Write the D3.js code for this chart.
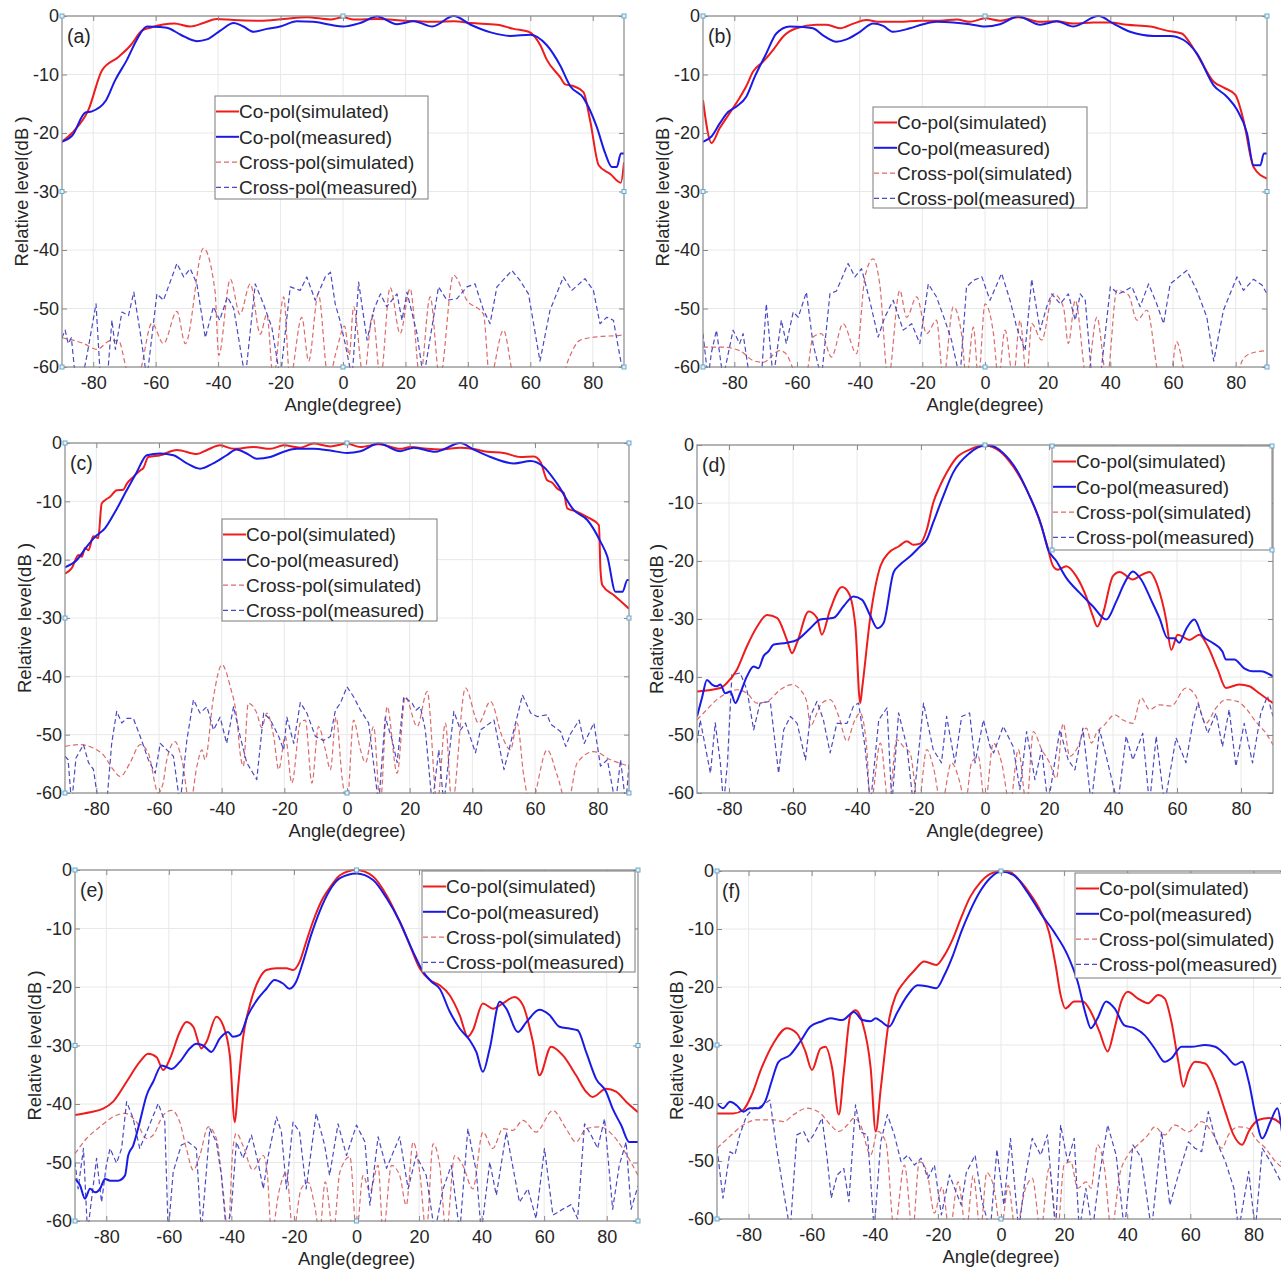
<!DOCTYPE html>
<html><head><meta charset="utf-8">
<script src="https://cdn.jsdelivr.net/npm/d3@7"></script>
<style>
html,body{margin:0;padding:0;background:#fff;}
svg{display:block;font-family:"Liberation Sans",Arial,Helvetica,sans-serif;}
</style></head>
<body>
<svg id="chart" width="1281" height="1272"></svg>
<script>
// ---------- tick labels / categories ----------
const xTicks = [-80,-60,-40,-20,0,20,40,60,80];
const yTicks = [0,-10,-20,-30,-40,-50,-60];
const legendLabels = ["Co-pol(simulated)","Co-pol(measured)","Cross-pol(simulated)","Cross-pol(measured)"];
const panelLabels = ["(a)","(b)","(c)","(d)","(e)","(f)"];
const xTitle = "Angle(degree)";
const yTitle = "Relative level(dB )";

// ---------- panel (a) ----------
const aCoSim = [[-90,-21.5],[-86.8,-20],[-81.5,-16],[-77.2,-9.3],[-71.9,-7],[-68,-5],[-64.4,-2.5],[-61.7,-2],[-54,-1.3],[-49,-1.8],[-44.7,-1.2],[-40.4,-0.5],[-35,-0.7],[-26.5,-0.8],[-19,-0.5],[-11.6,-0.2],[-4,-0.6],[0,-0.2],[3.4,-0.6],[10.9,-0.5],[20,-0.8],[28,-1.0],[35.5,-0.9],[40.9,-1.2],[49.4,-1.5],[54.7,-2.2],[59.5,-2.7],[63.2,-5],[65.3,-7.5],[69.6,-10.5],[71.2,-11.7],[73.9,-12],[77,-13],[79.2,-18],[81.9,-25.5],[85.6,-27],[89,-28.5],[90,-25]];
const aCoMeas = [[-90,-21.5],[-86.8,-20.5],[-82.5,-16.5],[-80.4,-16.3],[-76,-14.5],[-73,-11],[-69.2,-7.5],[-66,-4],[-62.8,-1.8],[-58.5,-1.9],[-56.4,-2],[-52,-3.2],[-46.8,-4.3],[-43.6,-4],[-39.3,-2.5],[-35,-1.2],[-31.9,-1.8],[-28.7,-2.7],[-24.4,-2.2],[-20.1,-1.8],[-14.8,-0.9],[-9.5,-1.0],[-4.1,-1.5],[0,-1.8],[5.5,-1.2],[10.9,-0.1],[17.3,-1.4],[22.7,-0.9],[28.6,-1.8],[35.5,0],[40.9,-1.5],[47.3,-2.8],[53.6,-3.4],[60,-3.2],[65.3,-5],[69.6,-8.5],[72.8,-12],[77,-14],[81.3,-19],[84,-23.5],[86.1,-25.8],[87.7,-25.8],[89,-23.5],[90,-23.5]];
const aXSim = [[-90,-55],[-83,-56],[-78.8,-57],[-74.5,-55.5],[-71.9,-55.5],[-68.7,-61],[-65.5,-61],[-61.2,-52.5],[-57.5,-56],[-53.2,-50.5],[-50.5,-56],[-44.7,-39.7],[-41,-47],[-39.8,-58],[-36.1,-45],[-33,-51],[-29.7,-45.8],[-26.5,-54.4],[-24.4,-51],[-22.3,-62],[-19,-48],[-17,-62],[-13.2,-51.5],[-11,-59],[-7.9,-47.5],[-4.7,-62],[-2,-57],[0.5,-53],[2,-58],[3.4,-49.7],[6.6,-62],[9.5,-51],[12,-62],[15.1,-46.4],[18.3,-54.3],[21.5,-46.6],[24.7,-62],[27.9,-48],[31,-62],[35.4,-44.3],[39.7,-48.6],[45,-51],[47,-62],[51.4,-53.7],[55,-62],[60,-62],[70,-62],[72,-59],[76,-55.4],[82,-54.8],[88.7,-54.6],[90,-54.5]];
const aXMeas = [[-90,-55],[-89,-53.7],[-88,-56],[-87,-55],[-85.7,-62],[-83.5,-62],[-82,-58],[-79.1,-49.2],[-77.7,-62],[-75.5,-62],[-74,-52],[-72.9,-57],[-70.8,-50.6],[-68.7,-51.2],[-67,-47.2],[-64.9,-54.3],[-62.8,-62],[-59.6,-47.5],[-57.5,-48.6],[-53.2,-42.3],[-51,-44.6],[-48.9,-43.2],[-46.8,-45.8],[-44.1,-55],[-41.5,-49.7],[-39.5,-52],[-37,-48],[-35,-50],[-31.3,-62],[-28.1,-45.8],[-25.5,-49.2],[-22.8,-53.2],[-20.1,-62],[-16.9,-46.3],[-13.7,-46.9],[-11.6,-44.6],[-8.9,-48.6],[-5.7,-44.6],[-4,-43.8],[-2.5,-49.2],[-1,-52],[0.7,-56],[2.9,-62],[5,-45.5],[7.7,-55.4],[10,-50],[12,-47.5],[14,-49.7],[17.3,-47.5],[18.9,-52],[20.5,-47.2],[23.7,-54.3],[25.8,-62],[30.6,-46.3],[33.3,-48.6],[36.5,-48.3],[39.7,-46.3],[42.3,-45.8],[45,-50.3],[47.1,-52.6],[49.3,-46.3],[54.1,-43.5],[56.7,-45.2],[59.4,-47.5],[63.1,-59],[66.3,-50.3],[70.6,-44.6],[73.3,-46.9],[77.5,-44.9],[80.2,-46.9],[82.3,-52.6],[84.5,-51.5],[86.6,-52],[90,-62]];

// ---------- panel (b) ----------
const bCoSim = [[-90,-14.4],[-87.3,-21.7],[-84.7,-19.2],[-82,-17],[-78.8,-14.4],[-76.2,-12],[-74,-9.5],[-70.8,-7.8],[-67.6,-5.8],[-64.4,-3.5],[-60.2,-2.1],[-53.8,-1.5],[-50.5,-1.5],[-46.3,-2.1],[-42,-1.3],[-37.8,-0.7],[-33.6,-1],[-27.2,-1],[-20.8,-0.8],[-14.4,-0.8],[-9,-0.6],[-4.8,-1],[0,-0.4],[4.8,-0.8],[10.6,-0.2],[17.6,-1],[22.9,-0.9],[28.2,-1.3],[34.6,-1.1],[40,-1.1],[45.3,-1.5],[52.7,-1.8],[58,-2.5],[62.8,-3],[65.5,-4.7],[68.7,-7.5],[72.9,-11.2],[76.1,-12.2],[79.9,-13.5],[82.5,-17.8],[85.7,-25.8],[90,-27.8]];
const bCoMeas = [[-90,-21.5],[-87.3,-20.6],[-84.7,-18.4],[-82,-16.4],[-79.4,-15.5],[-76.2,-13.8],[-73.5,-10.4],[-69.8,-6.4],[-66.6,-3],[-62.3,-1.8],[-58,-1.9],[-54.9,-2.1],[-51.7,-3.3],[-47.4,-4.4],[-44.2,-4],[-39.9,-2.7],[-35.7,-1.3],[-32.5,-1.7],[-29.3,-2.7],[-24,-2.1],[-19.7,-1.4],[-15.5,-1],[-10.1,-1.1],[-4.8,-1.4],[0,-1.8],[4.8,-1.4],[10.6,-0.1],[17.6,-1.5],[22.9,-0.9],[28.2,-1.8],[36.2,0],[41,-1.3],[46.3,-2.7],[53.8,-3.4],[59.1,-3.4],[63.4,-4.1],[67.6,-6.4],[72.9,-11.8],[77.2,-13.8],[80.4,-16],[83.6,-20],[85.7,-25.5],[87.9,-25.5],[89,-23.5],[90,-23.5]];
const bXSim = [[-90,-56.6],[-84,-56.6],[-78.3,-57.2],[-74,-58.9],[-70.8,-59.2],[-65.5,-57.2],[-63.4,-57.8],[-60.2,-61],[-57,-61],[-54.9,-54.9],[-52.2,-54.3],[-49,-58.3],[-45.3,-52.6],[-41,-57.7],[-38.3,-44.6],[-35.7,-41.5],[-33.6,-45.8],[-30.9,-62],[-27.2,-46.9],[-25,-51.5],[-21.8,-48],[-18.6,-54.3],[-15.5,-52],[-13.3,-62],[-10.1,-49.7],[-7.5,-54.3],[-5.9,-62],[-3.7,-53.2],[-2.1,-62],[0,-49.2],[2.7,-54.3],[4.3,-62],[6.4,-53.7],[9,-62],[11.2,-52],[13.3,-62],[14.9,-52.6],[18.1,-55.4],[21.8,-47.5],[25,-49.7],[26.6,-56],[28.8,-48.6],[32.5,-62],[35.7,-51.5],[38.9,-62],[42.1,-46.9],[45.8,-47.7],[48.5,-52],[51.7,-50.3],[55.9,-62],[59,-62],[61.2,-55.7],[64.4,-62],[80.4,-62],[82,-59],[84.7,-57.7],[90,-57.2]];
const bXMeas = [[-90,-54.3],[-88.4,-62],[-87.3,-57.5],[-85.7,-53.7],[-83.6,-62],[-80.4,-53.7],[-78.3,-56],[-77.2,-54.3],[-75.1,-62],[-71.4,-62],[-69.8,-49.2],[-67.6,-62],[-65,-52],[-63.4,-56],[-61.2,-50.6],[-59.6,-51.5],[-57,-47.2],[-54.9,-56],[-52.2,-62],[-49.5,-47.5],[-47.4,-47],[-43.7,-42.3],[-41.5,-44.6],[-39.4,-43.2],[-36.8,-48.6],[-34.1,-54.9],[-32,-51.5],[-29.3,-48.6],[-26.1,-53.7],[-23.4,-52.6],[-20.8,-56],[-18.1,-45.8],[-15.5,-48],[-12.8,-52],[-10.7,-55.4],[-8,-62],[-5.9,-46.3],[-3.7,-45.2],[-1,-44.6],[1.6,-48.6],[5.3,-44],[8,-48.6],[10.1,-53.2],[12.8,-57.2],[14.9,-45],[17.6,-53.7],[19.7,-49.7],[21.3,-47.5],[24,-49.2],[26.6,-47.5],[28.8,-52],[30.4,-47.5],[32,-48.6],[34.1,-62],[36.8,-62],[40,-46.3],[42.6,-47.5],[44.7,-47],[46.9,-46.3],[49.5,-49.7],[52.2,-45.8],[54.8,-49.2],[57,-52.6],[59.1,-45.8],[64.4,-43.5],[67.6,-46.9],[70.8,-51.5],[73,-59],[76.1,-50.3],[80.4,-44.6],[82.5,-46.9],[85.7,-45],[88.4,-46],[90,-47.5]];

// ---------- panel (c) ----------
const cCoSim = [[-90,-22.4],[-87.9,-21.5],[-85.7,-19.2],[-84.6,-19.5],[-83.6,-18],[-82.5,-18.4],[-81,-16],[-79.4,-16.3],[-78.3,-10.4],[-77.2,-9.8],[-75.6,-9.2],[-73.5,-8.1],[-71.4,-8],[-70.3,-7],[-68.2,-5.8],[-66,-4.7],[-65,-4.3],[-63.4,-2.4],[-59.6,-2.1],[-54.3,-1.2],[-47.9,-1.9],[-44.7,-1.2],[-40.5,-0.4],[-36.2,-1],[-29.8,-0.7],[-24.5,-1],[-20.2,-0.4],[-14.9,-0.8],[-10.7,-0.1],[-5.3,-0.6],[0,-0.1],[4.3,-0.7],[10.1,-0.2],[17,-1],[20.2,-0.7],[25.6,-1],[29.8,-1.1],[36.2,-0.8],[40,-1],[44.7,-1.5],[50,-1.7],[55.4,-2.4],[59.6,-2.3],[61.8,-3.3],[63.9,-6.4],[65.5,-6.8],[67.1,-7.8],[69.2,-8.6],[70.3,-11.2],[73.5,-11.8],[76.7,-12.7],[80.4,-14.1],[80.9,-21.8],[81.5,-24.4],[85.2,-26.1],[90,-28.4]];
const cCoMeas = [[-90,-21.3],[-86.3,-20.1],[-83.1,-17.8],[-80.4,-16.1],[-77.2,-14.6],[-74,-11.8],[-70.3,-8.1],[-67.1,-5],[-63.9,-2.1],[-59.6,-1.8],[-55.4,-2.1],[-51.1,-3.5],[-46.9,-4.4],[-42.7,-3.5],[-38.4,-2.1],[-35.2,-1.1],[-32,-1.8],[-28.8,-2.7],[-24.5,-2.4],[-20.2,-1.5],[-16,-1],[-10.7,-1],[-5.3,-1.3],[0,-1.7],[4.3,-1.4],[10.1,-0.1],[17,-1.4],[21.3,-0.8],[28.2,-1.5],[36.2,0],[40,-1],[45.8,-2.4],[53.3,-3.5],[58.6,-3.1],[62.8,-4.1],[67.1,-7],[72.4,-11.5],[76.7,-13.2],[80.9,-16.9],[83.1,-19.5],[85.7,-25.5],[87.9,-25.5],[89.5,-23.5],[90,-23.5]];
const cXSim = [[-90,-52],[-85.2,-51.7],[-81,-52.3],[-77.7,-53.5],[-74.6,-56],[-72.4,-57.2],[-69.2,-54.8],[-66,-51.7],[-63.4,-53.2],[-60.2,-60],[-58.7,-58.3],[-57.5,-54.3],[-54.9,-51.2],[-52.7,-54.3],[-50.1,-62],[-47.9,-55.4],[-46.3,-52.6],[-45.3,-54.3],[-42.6,-43.5],[-39.9,-38],[-37.3,-41.7],[-35.1,-47.5],[-34.1,-53.2],[-33.1,-55.4],[-31.5,-44.6],[-28.8,-46.3],[-27.2,-48.8],[-25.6,-46.3],[-23.4,-50.3],[-21.8,-56],[-19.7,-50.3],[-17.6,-58.3],[-14.9,-48],[-13.3,-47.5],[-11.2,-58.3],[-9.1,-48.6],[-6.9,-52.6],[-5.3,-56],[-3.5,-47],[-1.5,-57.7],[0,-62],[2.1,-47.5],[4.3,-52.6],[5.9,-54.8],[8.5,-48.6],[10.6,-62],[12.8,-45.2],[16,-56.6],[18.6,-43.5],[22.4,-48.6],[25.6,-42.6],[28.8,-62],[31.4,-48],[33.5,-62],[37.8,-42],[42,-48],[45.8,-44.3],[49.5,-50.3],[52.2,-52.6],[54.3,-48],[56.4,-57],[58.6,-62],[63.9,-52.6],[67.1,-57],[70.3,-62],[73.5,-54.8],[78.8,-52.9],[84.1,-54.3],[90,-55.4]];
const cXMeas = [[-90,-53.7],[-89,-54.3],[-87.9,-62],[-86.5,-54],[-84.1,-51.7],[-82.5,-54.8],[-80.9,-56],[-79.3,-62],[-76.7,-62],[-75.1,-51.5],[-73.5,-46],[-71.9,-48],[-70.3,-47.2],[-68.2,-47.2],[-66,-50.3],[-63.4,-54.3],[-61.2,-56.6],[-59.6,-51.5],[-57.5,-52.6],[-55.4,-53.7],[-53.3,-62],[-51.1,-50.9],[-49,-44],[-46.9,-46.3],[-44.7,-45.2],[-42.6,-49.2],[-40.5,-47],[-38.4,-51.5],[-36.2,-45.2],[-34.1,-50.3],[-32,-54.8],[-28.8,-57.7],[-26.6,-46.3],[-24.5,-47.4],[-21.8,-50.3],[-20.2,-52.6],[-19.2,-47],[-17,-51.5],[-14.9,-44.5],[-12.8,-46.3],[-10.1,-50.3],[-7.5,-51],[-5.3,-50.3],[-3.7,-45.8],[-2.1,-44.6],[0,-41.8],[2.1,-43.5],[4.3,-45.8],[6.9,-48],[10.1,-62],[12.2,-47],[14.4,-50.9],[16,-54.8],[18.1,-43.5],[20.8,-44.6],[22,-45.8],[23.4,-45.2],[25,-49.2],[27.2,-62],[29.3,-52.6],[30.9,-62],[34.1,-46],[36.2,-49.2],[37.8,-48],[41,-53.1],[42.6,-49.2],[46.9,-47.5],[50.1,-56],[52.2,-51.5],[56,-43.2],[58.6,-46.3],[60.7,-46.9],[63.9,-46.6],[65,-48.2],[68.2,-49.5],[69.8,-52],[71.4,-49.8],[74.1,-47.5],[75.7,-51.5],[78.8,-48],[80.9,-55.4],[83.1,-54.3],[85.7,-62],[87.3,-54.3],[89,-62],[90,-55]];

// ---------- panel (d) ----------
const dCoSim = [[-90,-42.5],[-82.7,-41.9],[-80.6,-41],[-77.5,-38.7],[-74.4,-34.7],[-71.2,-31.3],[-68.1,-29.3],[-65,-29.8],[-61.9,-33.6],[-60.3,-35.9],[-58.7,-34],[-55.1,-28.7],[-52.5,-29.8],[-51,-32.7],[-48.4,-28.4],[-44.7,-24.5],[-42.6,-25.5],[-40.5,-31.3],[-39,-44.5],[-38.4,-42],[-35.8,-29.5],[-32.7,-20.9],[-30.1,-18.6],[-27,-17.5],[-24.4,-16.6],[-22.4,-17.2],[-20.3,-17],[-18.2,-14.6],[-16.2,-10],[-14.1,-7.1],[-12,-4.8],[-8.9,-2.2],[-4.8,-0.8],[0,-0.1],[4.7,-1.1],[8.8,-3.7],[13,-7.7],[16.6,-12.3],[19.2,-16.9],[21.3,-20.9],[22.8,-21.5],[25.4,-20.9],[28.5,-22.6],[31.6,-26.1],[33.7,-29.5],[35.1,-31.3],[36.9,-29],[40,-22.6],[42.1,-21.9],[46.2,-23.2],[48.3,-22.6],[51.4,-21.9],[54,-24.4],[56.6,-30.1],[58.2,-35.3],[60.2,-32.7],[63.9,-33.6],[67,-32.7],[69.6,-34.7],[72.7,-38.7],[75.3,-41.9],[79.4,-41.3],[82.6,-41.6],[85.7,-42.8],[90,-44.5]];
const dCoMeas = [[-90,-46.8],[-88.4,-43.5],[-86.9,-40.5],[-85.3,-41.3],[-83.8,-41.6],[-82.7,-41.3],[-81.2,-42.8],[-79.6,-42.5],[-78,-44.5],[-76.5,-42.8],[-74.4,-39.9],[-72.3,-38.2],[-70.8,-38.5],[-69.2,-36.4],[-67.7,-35.6],[-66,-34.4],[-61.9,-34.1],[-58.7,-33.6],[-54.6,-31.6],[-51.5,-30.1],[-47.3,-29.8],[-44.2,-27.8],[-41.1,-26.1],[-38.4,-26.7],[-35.8,-29.5],[-33.6,-31.6],[-31.7,-30.7],[-28.6,-22],[-26.5,-20.6],[-23.4,-19.2],[-20.3,-17.5],[-18.2,-16.3],[-16.2,-13.4],[-13.1,-8.9],[-10,-4.8],[-4.8,-1.4],[0,-0.1],[1.6,-0.1],[5.7,-1.4],[9.9,-4.3],[14,-8.9],[17.7,-14],[19.7,-18],[22.3,-20],[25.4,-22.9],[29.6,-25.5],[33.7,-27.8],[37.9,-30.1],[41,-27],[43.6,-23.8],[46.2,-21.8],[48.8,-23.2],[51.9,-26.7],[54.5,-29.8],[57.1,-33.3],[59.2,-33.3],[60.7,-34.1],[62.8,-31.8],[65.4,-30.1],[68,-32.9],[71.1,-34.1],[74.2,-35.6],[75.3,-37],[77.9,-37],[81,-38.5],[83.6,-39],[86.2,-39],[90,-39.9]];
const dXSim = [[-90,-47.4],[-86.9,-45.6],[-83.8,-43.9],[-80.6,-42.8],[-77.5,-42.2],[-74.4,-42.8],[-71.2,-44.5],[-68.1,-44.2],[-64,-42.2],[-60.3,-41.3],[-57.7,-42.2],[-55.6,-44.5],[-54.6,-48.5],[-52.5,-46.2],[-51,-44.5],[-48.4,-43.9],[-45.7,-46.8],[-43.1,-51.1],[-41.1,-48],[-39,-46.2],[-37,-52],[-35.8,-62],[-32.7,-51.4],[-30.1,-62],[-27.6,-50.8],[-25.5,-52],[-23.4,-53.1],[-20.8,-62],[-18.2,-52.5],[-16.2,-55.4],[-13.6,-62],[-10.5,-54.8],[-7.8,-58.3],[-6.2,-62],[-4.2,-54.8],[-2.1,-53.7],[0,-62],[2.6,-51.4],[5.2,-54.8],[7.8,-62],[10.4,-52.5],[13,-62],[15.1,-49.4],[17.7,-52.5],[20.2,-54.8],[22.3,-57.5],[24.4,-48],[26.5,-53.7],[28.6,-52.5],[31.7,-48.8],[33.3,-51.4],[34.8,-49.7],[37.4,-48.2],[40.5,-46.5],[43.1,-47.4],[46.2,-48],[48.8,-43.6],[51.4,-45.6],[54.5,-44.8],[58.2,-45],[62.8,-41.9],[65.9,-43.3],[69,-48],[72.1,-45.4],[75.3,-43.9],[78.9,-44.2],[81.5,-45.4],[84.6,-47.7],[87.8,-49.7],[90,-51.7]];
const dXMeas = [[-90,-51.4],[-89,-47.4],[-87.4,-52],[-85.8,-56.6],[-84.3,-47.9],[-82.7,-54.8],[-81.7,-62],[-80.5,-55],[-79.1,-39.6],[-76.5,-39.3],[-74.4,-42.2],[-72.3,-49.1],[-70.3,-44.5],[-67.1,-44.2],[-64.5,-56.6],[-62.9,-49.1],[-60.8,-46.8],[-58.7,-48],[-56.1,-54.3],[-54.6,-46.8],[-52.5,-44.2],[-50.5,-47.4],[-48.4,-53.1],[-46.3,-48],[-43.1,-48],[-41.1,-45],[-39.5,-44.5],[-37.5,-52],[-35.8,-62],[-33.2,-47.4],[-30.6,-45.3],[-29.1,-62],[-27,-46.2],[-24.4,-52],[-22.4,-62],[-19.2,-44.5],[-16.2,-52.5],[-13.6,-54.8],[-12,-46.8],[-9.4,-54.8],[-7.3,-46.8],[-4.8,-46.2],[-3.1,-54.8],[-0.5,-47.4],[1.6,-52],[2.7,-53.1],[5.7,-48.5],[8.8,-52],[10.9,-59.4],[13,-49.4],[15.6,-57.7],[17.7,-52.5],[19.7,-62],[23.4,-49.1],[26,-54.3],[28.1,-56],[30.6,-48.8],[33.2,-62],[35.8,-49.1],[37.9,-53.7],[41.5,-62],[44.1,-50.2],[46.2,-54.3],[49.3,-49.7],[51.4,-62],[53.5,-50.2],[56.1,-62],[59.7,-50.5],[62.8,-54.8],[64.9,-48],[66.5,-44.5],[69.6,-49.7],[72.2,-46.2],[74.2,-52],[76.3,-45.6],[78.4,-55.4],[81,-48],[83.6,-54.8],[86.2,-46.2],[88.3,-43.3],[90,-46.8]];

// ---------- panel (e) ----------
const eCoSim = [[-90,-41.9],[-85.2,-41.4],[-81,-40.8],[-77.8,-39.6],[-73.5,-36.2],[-69.3,-32.8],[-66.6,-31.4],[-63.9,-32],[-61.8,-34.2],[-59.6,-32.2],[-56.5,-27.7],[-54.4,-26],[-52.2,-26.8],[-49.6,-30.5],[-48,-29.4],[-44.8,-25.1],[-42.7,-26.5],[-40.5,-31.7],[-38.9,-43.1],[-37.9,-37.4],[-36.3,-28.8],[-34.1,-23.1],[-31,-18.5],[-28.8,-17.1],[-25.6,-16.8],[-22.4,-16.8],[-20.3,-17.1],[-18.2,-15.7],[-16.1,-12.3],[-13.9,-8.8],[-10.7,-4.8],[-8.5,-3],[-5.3,-0.9],[0,0],[5.3,-1.1],[9.6,-4.3],[13.8,-8.8],[17,-12.8],[20.2,-16.8],[23.4,-18.8],[26.6,-19.7],[29.8,-21.4],[33,-24.8],[35.6,-28.5],[37.2,-27.4],[40.4,-22.8],[43.6,-23.7],[46.8,-22.8],[50.5,-21.7],[53.2,-23.1],[56.4,-29.4],[58.5,-35.1],[62.2,-30.2],[66,-31.7],[70.2,-35.1],[73.4,-37.9],[75.5,-38.8],[79.8,-37.4],[83,-37.9],[86.2,-39.6],[90,-41.4]];
const eCoMeas = [[-90,-52.8],[-88.4,-53.9],[-86.8,-56.2],[-85.2,-54.5],[-83.6,-55.1],[-82,-54.5],[-80.4,-52.8],[-78.8,-53.1],[-76.2,-53.1],[-74,-52.2],[-73,-48.8],[-71.4,-47.1],[-69.3,-43.1],[-67.1,-38.5],[-65,-36.2],[-62.3,-33.4],[-59.1,-34],[-56.5,-32.8],[-53.3,-30.5],[-51.2,-29.7],[-49,-30],[-46.4,-31.1],[-43.7,-28.8],[-41.1,-27.7],[-39.5,-28.5],[-37.3,-28.2],[-34.7,-24.8],[-31.5,-22],[-28.8,-20.3],[-26.2,-18.8],[-23.5,-19.4],[-21.4,-20.3],[-19.3,-19.1],[-17.1,-15.7],[-14.5,-11.1],[-11.8,-7.1],[-8.6,-3.5],[-5.3,-1.4],[0,-0.6],[5.3,-1.7],[9.6,-4.8],[13.8,-8.8],[18.1,-14],[21.3,-17.4],[24,-19.1],[26.6,-20.3],[29.8,-24.2],[33,-27.1],[36.2,-29.1],[38.3,-31.1],[40.4,-34.5],[42.6,-30.5],[45.8,-22.5],[47.9,-23.7],[51.6,-27.7],[54.3,-26],[58.5,-23.9],[61.7,-24.8],[64.9,-26.8],[68.1,-27.1],[70.7,-27.4],[73.4,-31.1],[76.6,-35.7],[79.8,-37.9],[81.9,-40.8],[84.6,-43.6],[87.2,-46.5],[90,-46.5]];
const eXSim = [[-90,-48.5],[-86.3,-45.9],[-82,-43.9],[-77.8,-42.2],[-74,-41.6],[-70.3,-43.1],[-67.1,-45.9],[-65,-45.3],[-61.8,-41.9],[-59.1,-41.1],[-56.5,-43.1],[-54.4,-47.6],[-52.2,-51.3],[-50.1,-48.8],[-47.4,-43.9],[-44.8,-45.9],[-42.7,-54.5],[-41.1,-62],[-39.5,-47.6],[-38.4,-45],[-36.3,-47.1],[-33.1,-51.3],[-29.8,-48.8],[-28.5,-52],[-27.2,-62],[-24.6,-54.5],[-22.4,-51.6],[-20.3,-62],[-17.7,-54.5],[-15.5,-53.4],[-13.4,-57.3],[-11.8,-62],[-10,-53.3],[-7.4,-62],[-5.3,-51.6],[-2.1,-49],[0,-62],[2.1,-52.2],[4.3,-55],[6.9,-50.5],[8.5,-62],[11.2,-50.5],[13.8,-52.2],[15.9,-57.3],[18.1,-46.5],[20.2,-51.6],[22.3,-62],[24.5,-46.8],[26.6,-50.5],[28.7,-62],[31.4,-48.8],[34,-50.5],[37.2,-54.5],[40.4,-44.8],[43.6,-47.6],[46.8,-44.2],[50,-44.5],[53.2,-42.8],[57.4,-44.8],[62.8,-41.1],[67,-44.2],[70.2,-46.5],[73.4,-44.2],[77.7,-43.9],[81.9,-45.3],[85.1,-47.6],[90,-52.2]];
const eXMeas = [[-90,-49.9],[-89,-54.5],[-87.3,-47.6],[-86,-62],[-84.3,-54.5],[-83.1,-49.3],[-81.5,-56.8],[-80,-50.5],[-78.8,-47.6],[-76.7,-50.1],[-75.1,-47.6],[-73.5,-39.6],[-71.4,-42.5],[-69.3,-47.6],[-67.1,-44.8],[-63.4,-39.9],[-61.3,-43],[-60.2,-62],[-58.6,-51.6],[-56,-47],[-53.8,-46.5],[-51.2,-47.6],[-49.6,-62],[-46.9,-44.2],[-44.8,-46.5],[-43.2,-52.2],[-41.6,-62],[-40,-57.9],[-38.4,-46.5],[-36.3,-49.3],[-33.6,-45.3],[-31.5,-49.9],[-29.8,-54.5],[-28.2,-48.8],[-25.6,-42.2],[-24,-44.8],[-22.4,-54.5],[-20.3,-43.1],[-18.2,-44.8],[-16.1,-54.5],[-12.9,-41.6],[-10.2,-47],[-8.6,-52.2],[-5.9,-43.4],[-3.2,-48.8],[0,-43.6],[2.7,-46.5],[4.3,-57.3],[6.9,-45.6],[9.6,-51],[13.8,-45.6],[16.5,-54.5],[19.1,-48.8],[22.3,-52.2],[25,-62],[27.7,-54.5],[30.3,-50.5],[33,-62],[35.6,-44.2],[38.3,-51.6],[39.9,-62],[42.6,-49.9],[44.7,-55.6],[47.9,-44.8],[50.5,-52.2],[52.1,-56.8],[54.8,-54.5],[57.4,-59.6],[60.1,-47.6],[62.8,-59],[65.9,-58],[68.6,-57.2],[70.7,-59.6],[72.9,-43.4],[75,-45.3],[77.1,-47.6],[79.3,-42.5],[81.9,-58],[84,-50.5],[86.2,-46.5],[87.8,-58],[90,-54]];

// ---------- panel (f) ----------
const fCoSim = [[-90,-41.8],[-84.9,-41.8],[-81.7,-41.2],[-79,-38.6],[-75.9,-34],[-72.1,-29.7],[-67.9,-27.1],[-64.7,-28],[-62,-31.1],[-59.9,-34.3],[-57.2,-30.6],[-55.6,-30.3],[-53.5,-34],[-51.4,-42],[-49.8,-34.6],[-47.7,-24.8],[-46.1,-24],[-44,-26],[-41.3,-34],[-39.7,-44.9],[-38.1,-37.5],[-35.4,-25.4],[-33.3,-21.4],[-30.6,-19.1],[-27.4,-17.1],[-24.3,-15.6],[-20.5,-16.2],[-17.9,-14.5],[-15.2,-11.6],[-12.6,-8],[-9.8,-4.5],[-6.6,-2],[-3.4,-0.5],[0,0],[2,0],[3,-0.2],[6.2,-1.8],[9.4,-4.1],[12.6,-7],[15.2,-10.5],[17.3,-16.2],[18.9,-21.4],[20.4,-23.7],[23.2,-22.5],[25.9,-22.5],[28.5,-24.3],[31.2,-27.7],[33.8,-31.1],[36,-27.1],[38.1,-22.5],[40.2,-20.8],[43.4,-22],[46.6,-22.8],[49.8,-21.4],[51.9,-22],[54,-26],[56.2,-32.9],[57.8,-37.2],[59.4,-34.6],[61.5,-32.9],[64.7,-33.2],[67.9,-36.3],[71.1,-41.5],[73.7,-45.5],[76.4,-47.2],[78.5,-44.9],[81.7,-42.9],[84.9,-42.6],[89.1,-43.8],[90,-44.5]];
const fCoMeas = [[-90,-40.1],[-88.1,-40.9],[-85.9,-39.8],[-83.8,-40.4],[-81.7,-41.5],[-79.6,-40.9],[-76.9,-40.9],[-74.8,-39.8],[-72.7,-36.3],[-70.5,-32.9],[-66.8,-31.7],[-63.6,-29.4],[-60.4,-26.8],[-56.7,-25.9],[-54,-25.4],[-50.3,-25.7],[-46.6,-24.3],[-43.9,-25.7],[-41.3,-25.9],[-39.7,-25.4],[-38.1,-25.9],[-35.4,-26.8],[-32.8,-24.3],[-29.6,-21.4],[-26.4,-19.7],[-23.2,-19.9],[-20.5,-20.2],[-17.9,-17.9],[-15.2,-14.5],[-12.6,-10.5],[-9.9,-7],[-6.6,-3.5],[-3.4,-1.2],[0,-0.1],[4,-0.7],[8.3,-3.6],[12.6,-7.3],[16.8,-10.5],[21.1,-14.5],[24.3,-19.1],[26.9,-24.8],[28.5,-27.1],[30.6,-25.4],[33.3,-22.5],[36,-23.7],[39.1,-26.6],[42.3,-27.1],[45.5,-28.3],[48.7,-30.6],[51.9,-32.9],[54,-32.3],[57.2,-30.3],[60.4,-30.3],[64.7,-30],[67.9,-30.3],[71.1,-31.7],[74.3,-33.4],[76.4,-32.9],[78.5,-36.3],[80.6,-42],[82.8,-46.1],[85.4,-43.2],[87.6,-40.9],[89.7,-46.7],[90,-47]];
const fXSim = [[-90,-47.8],[-86,-45.8],[-81.7,-43.8],[-77.4,-42.9],[-72.1,-42.9],[-68.9,-43.2],[-65.7,-42],[-61.5,-40.9],[-57.2,-41.8],[-54,-43.8],[-51.4,-44.9],[-48.7,-43.8],[-46.6,-42.6],[-44.5,-43.8],[-41.3,-49],[-39.1,-44.9],[-36.5,-46.7],[-33.8,-62],[-30.6,-50.7],[-28,-62],[-25.9,-50.1],[-23.5,-51.8],[-21.1,-59],[-18.7,-54.5],[-16.3,-62],[-13.6,-53.6],[-11,-62],[-8.8,-52.5],[-6.5,-62],[-4.5,-52],[-2.3,-54.5],[0,-62],[2.3,-54.2],[4.6,-62],[7.8,-54.7],[9.9,-53],[12.6,-62],[15.2,-51.3],[17.9,-62],[20,-50.7],[22.1,-50.1],[24.3,-54.7],[27,-53.6],[28.5,-54.7],[30.6,-47.2],[32.8,-51.3],[35,-62],[37.6,-52.4],[40.2,-49],[43.4,-47.2],[46.6,-45.5],[48.7,-44.1],[51.9,-45.5],[55.1,-43.8],[59.4,-45],[63.6,-43.2],[66.8,-45],[70,-47.8],[72.1,-45.5],[75.3,-44.1],[78.5,-44.4],[80.6,-46.1],[83.8,-47.8],[87,-50.1],[90,-51.5]];
const fXMeas = [[-90,-47.8],[-88.1,-56.4],[-85.9,-48.4],[-84.3,-48.9],[-82.8,-45.5],[-80.7,-42.3],[-78.5,-40.9],[-75.9,-40.5],[-73.2,-39.5],[-71.1,-47.8],[-68.9,-55.3],[-66.8,-62],[-64.7,-45.5],[-62.5,-44.9],[-61,-46.7],[-59.4,-45.5],[-56.7,-42.6],[-55.1,-49.5],[-53.8,-56.4],[-51.9,-52.4],[-49.8,-51.3],[-48.2,-57],[-46.1,-40.3],[-44.5,-45],[-42.3,-45.5],[-40.2,-62],[-38.1,-46.7],[-36,-42],[-33.8,-45.5],[-31.7,-50.1],[-29.6,-49],[-27.4,-50.7],[-25.3,-49.5],[-23.2,-53],[-21.1,-50.7],[-18.9,-59.3],[-16.3,-52.4],[-14.7,-54.7],[-12.6,-57.6],[-11,-52],[-8.2,-49],[-6,-57],[-3.4,-62],[-1.3,-48],[0.9,-57.6],[3,-46.1],[5.6,-62],[7.8,-52.4],[9.9,-46.1],[12.6,-49],[14.7,-45.5],[17.3,-62],[18.9,-43.8],[21.1,-50.1],[23.2,-46.1],[24.8,-62],[26.9,-54.7],[29,-62],[31.2,-52.4],[33.8,-43.8],[36.5,-49],[39.1,-62],[41.8,-47.2],[44.5,-49.5],[47.7,-62],[50.9,-44.9],[53.5,-57.6],[56.2,-52.4],[59.4,-46.7],[61.5,-47.8],[63.6,-48.4],[65.7,-41.5],[67.9,-46.1],[71.1,-50.1],[73.8,-54.7],[75.3,-62],[78.5,-51.8],[80.6,-62],[82.8,-47.8],[85.4,-50.1],[87.6,-52.4],[89.7,-54.7],[90,-55]];

// ---------- layout (positions only) ----------
const panels = [
  {L:62,  R:624,  T:16,  B:367,  leg:[215,96,213,103],  handles:"box", series:[aCoSim,aCoMeas,aXSim,aXMeas]},
  {L:703, R:1267, T:16,  B:367,  leg:[873,107,214,101], handles:"box", series:[bCoSim,bCoMeas,bXSim,bXMeas]},
  {L:65,  R:629,  T:443, B:793,  leg:[222,519,215,102], handles:"box", series:[cCoSim,cCoMeas,cXSim,cXMeas]},
  {L:697, R:1273, T:445, B:793,  leg:[1052,446,220,104],handles:"legend", series:[dCoSim,dCoMeas,dXSim,dXMeas]},
  {L:75,  R:638,  T:870, B:1221, leg:[422,871,213,101], handles:"box", series:[eCoSim,eCoMeas,eXSim,eXMeas]},
  {L:717, R:1285, T:871, B:1219, leg:[1075,873,215,105],handles:"box", series:[fCoSim,fCoMeas,fXSim,fXMeas]}
];
const styles = [
  {color:"#ee1c1c", width:2,   dash:null,  curve:d3.curveMonotoneX},
  {color:"#1a1ae6", width:2,   dash:null,  curve:d3.curveMonotoneX},
  {color:"#dc6a6a", width:1.2, dash:"5,3", curve:d3.curveMonotoneX},
  {color:"#4a4ac4", width:1.2, dash:"5,3", curve:d3.curveLinear}
];

const svg = d3.select("#chart");
const textColor = "#262626";
const axisColor = "#8a8a8a";
const fmt = d => String(d);   // plain hyphen-minus, as in the original

panels.forEach((p, i) => {
  const x = d3.scaleLinear().domain([-90,90]).range([p.L,p.R]);
  const y = d3.scaleLinear().domain([-60,0]).range([p.B,p.T]);
  const g = svg.append("g");

  // grid
  g.append("g").selectAll("line").data(xTicks).join("line")
    .attr("x1",d=>x(d)).attr("x2",d=>x(d)).attr("y1",p.T).attr("y2",p.B)
    .attr("stroke","#e8e8e8").attr("stroke-width",1);
  g.append("g").selectAll("line").data(yTicks).join("line")
    .attr("x1",p.L).attr("x2",p.R).attr("y1",d=>y(d)).attr("y2",d=>y(d))
    .attr("stroke","#e8e8e8").attr("stroke-width",1);

  // clip
  const cid = "clip"+i;
  svg.append("clipPath").attr("id",cid).append("rect")
    .attr("x",p.L).attr("y",p.T-1).attr("width",p.R-p.L).attr("height",p.B-p.T+2);

  const lines = g.append("g").attr("clip-path",`url(#${cid})`);
  [2,3,0,1].forEach(k => {
    const st = styles[k];
    const line = d3.line().x(d=>x(d[0])).y(d=>y(d[1])).curve(st.curve);
    lines.append("path").datum(p.series[k])
      .attr("d",line).attr("fill","none")
      .attr("stroke",st.color).attr("stroke-width",st.width)
      .attr("stroke-dasharray",st.dash)
      .attr("stroke-linejoin","round");
  });

  // axes with inward ticks on all sides
  const styleText = s => s.selectAll("text").attr("fill",textColor).attr("font-size",18)
      .attr("font-family","Liberation Sans, Arial, sans-serif");
  const ax = g.append("g");
  ax.append("g").attr("transform",`translate(0,${p.B})`)
    .call(d3.axisBottom(x).tickValues(xTicks).tickSize(-5).tickPadding(9).tickFormat(fmt))
    .call(s=>{s.select(".domain").remove(); s.selectAll("line").attr("stroke",axisColor); styleText(s);});
  ax.append("g").attr("transform",`translate(0,${p.T})`)
    .call(d3.axisTop(x).tickValues(xTicks).tickSize(-5).tickFormat(""))
    .call(s=>{s.select(".domain").remove(); s.selectAll("line").attr("stroke",axisColor);});
  ax.append("g").attr("transform",`translate(${p.L},0)`)
    .call(d3.axisLeft(y).tickValues(yTicks).tickSize(-5).tickPadding(3).tickFormat(fmt))
    .call(s=>{s.select(".domain").remove(); s.selectAll("line").attr("stroke",axisColor); styleText(s);});
  ax.append("g").attr("transform",`translate(${p.R},0)`)
    .call(d3.axisRight(y).tickValues(yTicks).tickSize(-5).tickFormat(""))
    .call(s=>{s.select(".domain").remove(); s.selectAll("line").attr("stroke",axisColor);});
  g.append("rect").attr("x",p.L).attr("y",p.T).attr("width",p.R-p.L).attr("height",p.B-p.T)
    .attr("fill","none").attr("stroke",axisColor).attr("stroke-width",1.2);

  // titles
  g.append("text").attr("x",(p.L+p.R)/2).attr("y",p.B+44).attr("text-anchor","middle")
    .attr("font-size",18.5).attr("fill",textColor).text(xTitle);
  g.append("text").attr("transform",`translate(${p.L-40},${(p.T+p.B)/2}) rotate(-90)`)
    .attr("text-anchor","middle").attr("dy","0.35em")
    .attr("font-size",18.5).attr("fill",textColor).text(yTitle);
  g.append("text").attr("x",p.L+5).attr("y",p.T+27).attr("font-size",19.5)
    .attr("fill",textColor).text(panelLabels[i]);

  // legend
  const [lx,ly,lw,lh] = p.leg;
  const lg = g.append("g");
  lg.append("rect").attr("x",lx).attr("y",ly).attr("width",lw).attr("height",lh)
    .attr("fill","#fff").attr("stroke","#7a7a7a").attr("stroke-width",1);
  legendLabels.forEach((lab,k)=>{
    const cy = ly + 15.5 + k*25.3;
    const st = styles[k];
    lg.append("line").attr("x1",lx+1).attr("x2",lx+24).attr("y1",cy).attr("y2",cy)
      .attr("stroke",st.color).attr("stroke-width",st.width).attr("stroke-dasharray",st.dash);
    lg.append("text").attr("x",lx+24).attr("y",cy).attr("dy","0.36em")
      .attr("font-size",19).attr("fill",textColor).text(lab);
  });

  // selection handles (small squares)
  let hs = [];
  const mx = (p.L+p.R)/2, my = (p.T+p.B)/2;
  if (p.handles==="box") {
    hs = [[p.L,p.T],[mx,p.T],[p.R,p.T],[p.L,my],[p.R,my],[p.L,p.B],[mx,p.B],[p.R,p.B]];
  } else {
    hs = [[lx,ly],[lx+lw,ly],[lx,ly+lh],[lx+lw,ly+lh],[mx,p.T]];
  }
  g.append("g").selectAll("rect").data(hs).join("rect")
    .attr("x",d=>d[0]-2).attr("y",d=>d[1]-2).attr("width",4).attr("height",4)
    .attr("fill","#e4f1f8").attr("stroke","#6aa8cc").attr("stroke-width",1);
});
</script>
</body></html>
